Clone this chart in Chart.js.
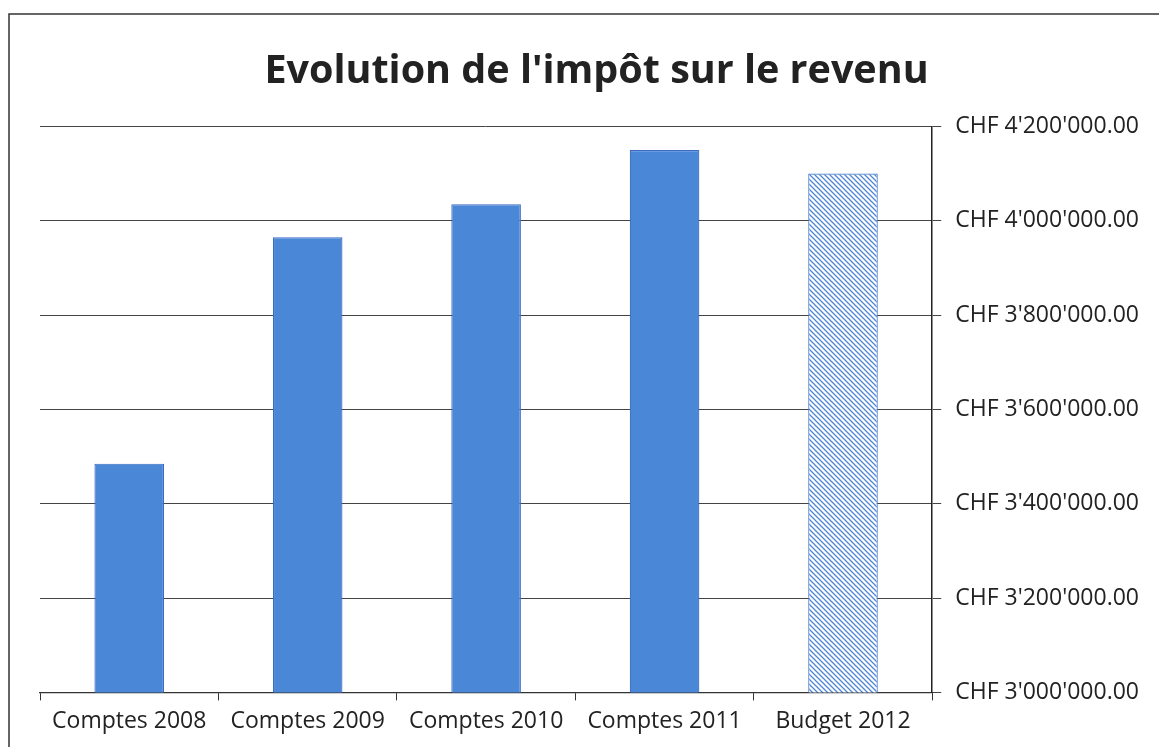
<!DOCTYPE html>
<html>
<head>
<meta charset="utf-8">
<script src="https://cdn.jsdelivr.net/npm/chart.js@4.4.0/dist/chart.umd.min.js"></script>
<style>
  html, body { margin: 0; padding: 0; background: #fff; }
  #wrap { width: 1159px; height: 747px; position: relative; }
</style>
</head>
<body>
<div id="wrap"><canvas id="impot"></canvas></div>
<script>
// donnees
var categories = ["Comptes 2008", "Comptes 2009", "Comptes 2010", "Comptes 2011", "Budget 2012"];
var montants = [3485000, 3965000, 4035000, 4150000, 4100000];
var yMin = 3000000;
var yMax = 4200000;
var yPas = 200000;

function hachures() {
	var c = document.createElement('canvas');
	c.width = 5; c.height = 5;
	var g = c.getContext('2d');
	g.fillStyle = '#ffffff';
	g.fillRect(0, 0, 5, 5);
	g.strokeStyle = '#4f86d4';
	g.lineWidth = 1.3;
	g.beginPath();
	g.moveTo(0, 0); g.lineTo(5, 5);
	g.moveTo(-3, 2); g.lineTo(3, 8);
	g.moveTo(2, -3); g.lineTo(8, 3);
	g.stroke();
	return g.createPattern(c, 'repeat');
}

function chf(v) {
	var s = Math.round(v).toString().replace(/\B(?=(\d{3})+(?!\d))/g, "'");
	return "CHF " + s + ".00";
}

var fonds = montants.map(function(v, i) { return i == 4 ? hachures() : '#4a87d6'; });
var bords = montants.map(function(v, i) { return i == 4 ? '#4a7fcc' : '#3a6cc4'; });

var cadre = {
	id: 'cadre',
	beforeDraw: function(chart) {
		var ctx = chart.ctx;
		ctx.save();
		ctx.strokeStyle = '#333';
		ctx.lineWidth = 1.5;
		ctx.beginPath();
		ctx.moveTo(9, 747); ctx.lineTo(9, 14); ctx.lineTo(1159, 14);
		ctx.stroke();
		ctx.restore();
	}
};

var ctx = document.getElementById('impot');
var graphique = new Chart(ctx, {
	type: 'bar',
	data: {
		labels: categories,
		datasets: [{
			label: "Impôt sur le revenu",
			data: montants,
			backgroundColor: fonds,
			borderColor: bords,
			borderWidth: 1.2,
			barPercentage: 0.39,
			categoryPercentage: 1.0
		}]
	},
	options: {
		responsive: true,
		maintainAspectRatio: false,
		animation: false,
		layout: { padding: { left: 40, right: 6, top: 48, bottom: 5 } },
		plugins: {
			legend: { display: false },
			tooltip: { enabled: false },
			title: {
				display: true,
				text: "Evolution de l'impôt sur le revenu",
				color: '#222',
				font: { family: 'Open Sans', size: 39.5, weight: 'bold' },
				padding: { top: 0, bottom: 31 }
			}
		},
		scales: {
			x: {
				grid: { drawOnChartArea: false, color: '#333', tickLength: 8, offset: true },
				border: { color: '#333', width: 1.2 },
				ticks: { color: '#222', font: { family: 'Open Sans', size: 23 }, padding: 7 }
			},
			y: {
				position: 'right',
				min: yMin,
				max: yMax,
				grid: { color: '#444', lineWidth: 1, tickLength: 9 },
				border: { color: '#222', width: 1.5 },
				ticks: {
					stepSize: yPas,
					color: '#222',
					font: { family: 'Open Sans', size: 23 },
					padding: 14,
					callback: function(v) { return chf(v); }
				}
			}
		}
	},
	plugins: [cadre]
});
</script>
</body>
</html>
